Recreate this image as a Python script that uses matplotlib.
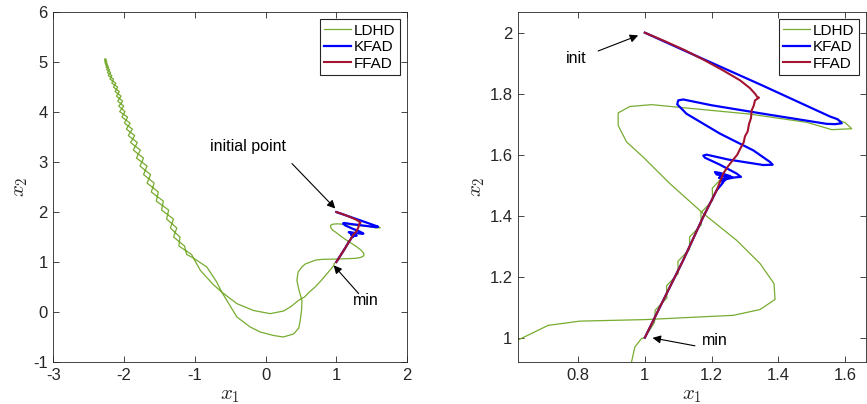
import matplotlib
matplotlib.use("Agg")
import matplotlib.pyplot as plt
import numpy as np

plt.rcParams['font.family'] = ['Liberation Sans', 'DejaVu Sans']
plt.rcParams['mathtext.fontset'] = 'cm'
plt.rcParams['axes.unicode_minus'] = False

# ---------------- data ----------------
# LDHD: wiggly double strand in the valley (y, strand A x, strand B x)
wig_y = [5.06, 5.02, 4.98, 4.94, 4.90, 4.85, 4.79, 4.73, 4.66, 4.58, 4.50, 4.41,
         4.32, 4.22, 4.12, 4.01, 3.90, 3.78, 3.66, 3.53, 3.39, 3.24, 3.08, 2.92,
         2.75, 2.58, 2.40, 2.22, 2.04, 1.86, 1.68, 1.50, 1.32, 1.15]
wig_xa = [-2.253, -2.275, -2.240, -2.260, -2.219, -2.245, -2.190, -2.223, -2.150,
          -2.173, -2.090, -2.127, -2.043, -2.090, -2.005, -2.063, -1.950, -1.995,
          -1.883, -1.940, -1.812, -1.870, -1.725, -1.775, -1.625, -1.675, -1.515,
          -1.545, -1.370, -1.398, -1.255, -1.300, -1.145, -1.115]
wig_xb = [-2.277, -2.245, -2.270, -2.230, -2.255, -2.205, -2.234, -2.173, -2.200,
          -2.117, -2.150, -2.067, -2.107, -2.020, -2.075, -1.987, -2.030, -1.915,
          -1.967, -1.850, -1.908, -1.770, -1.825, -1.675, -1.725, -1.575, -1.615,
          -1.445, -1.470, -1.302, -1.345, -1.210, -1.225, -1.045]

# LDHD: near the minimum, up along FFAD, then down the upper branch of the valley
ldhd_start_x = [1.228, 1.202, 1.203, 1.168, 1.169, 1.134, 1.134, 1.099, 1.100, 1.065,
                1.066, 1.031, 1.029, 1.000, 0.990, 0.970, 0.960, 0.900, 0.840, 0.780,
                0.700, 0.620, 0.550, 0.467, 0.360, 0.255, 0.066, -0.170, -0.405,
                -0.620, -0.690, -0.830, -1.020]
ldhd_start_y = [1.52, 1.49, 1.45, 1.41, 1.37, 1.33, 1.29, 1.25, 1.21, 1.17,
                1.13, 1.09, 1.05, 1.00, 0.997, 0.969, 0.92, 0.82, 0.72, 0.62,
                0.50, 0.40, 0.30, 0.234, 0.11, 0.02, -0.033, 0.03, 0.167,
                0.40, 0.60, 0.90, 1.08]
# LDHD: lower branch of the valley, then the big loop near the minimum
ldhd_end_x = [-1.020, -0.920, -0.740, -0.620, -0.405, -0.217, -0.075, 0.113, 0.250,
              0.396, 0.470, 0.490, 0.510, 0.514, 0.470, 0.443, 0.460, 0.514, 0.560,
              0.620, 0.710, 0.805, 1.000, 1.265, 1.345, 1.390, 1.387, 1.345, 1.275,
              1.175, 1.075, 0.995, 0.945, 0.920, 0.920, 0.955, 1.020, 1.115, 1.315,
              1.485, 1.560, 1.620, 1.600, 1.575]
ldhd_end_y = [1.08, 0.83, 0.55, 0.40, -0.10, -0.30, -0.40, -0.47, -0.50,
              -0.44, -0.32, -0.167, 0.05, 0.233, 0.45, 0.633, 0.80, 0.90, 0.96,
              0.992, 1.040, 1.054, 1.059, 1.073, 1.092, 1.125, 1.177, 1.243, 1.319,
              1.407, 1.505, 1.592, 1.642, 1.696, 1.737, 1.758, 1.764, 1.754, 1.733,
              1.706, 1.682, 1.685, 1.705, 1.715]

# KFAD
kfad_x = [1.000, 1.115, 1.350, 1.555, 1.578, 1.590, 1.570, 1.545, 1.350, 1.200,
          1.115, 1.100, 1.097, 1.125, 1.225, 1.325, 1.375, 1.383, 1.355, 1.250,
          1.185, 1.175, 1.180, 1.225, 1.275, 1.288, 1.265, 1.215, 1.210, 1.225,
          1.255, 1.262, 1.240, 1.222, 1.232, 1.245, 1.236, 1.228, 1.234, 1.215,
          1.175, 1.115, 1.055, 1.000]
kfad_y = [2.000, 1.943, 1.828, 1.725, 1.716, 1.703, 1.700, 1.701, 1.735, 1.762,
          1.781, 1.778, 1.765, 1.734, 1.669, 1.614, 1.576, 1.567, 1.566, 1.584,
          1.600, 1.597, 1.590, 1.567, 1.538, 1.527, 1.525, 1.535, 1.543, 1.540,
          1.530, 1.524, 1.519, 1.524, 1.532, 1.522, 1.512, 1.515, 1.508, 1.483,
          1.396, 1.254, 1.122, 1.000]

# FFAD
ffad_x = [1.000, 1.060, 1.115, 1.175, 1.235, 1.285, 1.315, 1.330, 1.337, 1.342,
          1.330, 1.326, 1.320, 1.318, 1.312, 1.308, 1.300, 1.296, 1.286, 1.277,
          1.262, 1.248, 1.235, 1.215, 1.175, 1.115, 1.055, 1.000]
ffad_y = [2.000, 1.972, 1.945, 1.912, 1.876, 1.844, 1.818, 1.800, 1.789, 1.787,
          1.778, 1.760, 1.745, 1.720, 1.700, 1.676, 1.660, 1.640, 1.620, 1.600,
          1.580, 1.560, 1.538, 1.483, 1.396, 1.254, 1.122, 1.000]

series_names = ['LDHD', 'KFAD', 'FFAD']

# annotations: (text, text position, arrow tail, arrow head)
left_notes = [('initial point', (-0.25, 3.32), (0.373, 2.97), (0.986, 2.07)),
              ('min', (1.42, 0.233), (1.316, 0.368), (0.962, 0.934))]
right_notes = [('init', (0.793, 1.917), (0.86, 1.94), (0.98, 1.991)),
               ('min', (1.21, 0.992), (1.15, 0.973), (1.023, 0.999))]

left_xlim, left_ylim = (-3, 2), (-1, 6)
left_xticks, left_yticks = [-3, -2, -1, 0, 1, 2], [-1, 0, 1, 2, 3, 4, 5, 6]
right_xlim, right_ylim = (0.62, 1.663), (0.92, 2.0675)
right_xticks = [0.8, 1.0, 1.2, 1.4, 1.6]
right_xticklabels = ['0.8', '1', '1.2', '1.4', '1.6']
right_yticks = [1.0, 1.2, 1.4, 1.6, 1.8, 2.0]
right_yticklabels = ['1', '1.2', '1.4', '1.6', '1.8', '2']

# ---------------- build LDHD path ----------------
ldhd_x = (ldhd_start_x + wig_xa[::-1] + wig_xb + ldhd_end_x)
ldhd_y = (ldhd_start_y + wig_y[::-1] + wig_y + ldhd_end_y)

c_green = '#77AC30'
c_blue = '#0000FF'
c_red = '#A2142F'
axcol = '#262626'

fig = plt.figure(figsize=(8.67, 4.04), dpi=100)
ax1 = fig.add_axes([0.0615, 0.104, 0.408, 0.866])
ax2 = fig.add_axes([0.5975, 0.104, 0.4015, 0.866])


def draw(ax, notes):
    ax.plot(ldhd_x, ldhd_y, color=c_green, lw=0.9, label=series_names[0],
            solid_joinstyle='round')
    ax.plot(kfad_x, kfad_y, color=c_blue, lw=1.6, label=series_names[1])
    ax.plot(ffad_x, ffad_y, color=c_red, lw=1.5, label=series_names[2])
    for txt, tpos, tail, head in notes:
        ax.text(tpos[0], tpos[1], txt, fontsize=11.5, color='k', ha='center', va='center')
        ax.annotate('', xy=head, xytext=tail,
                    arrowprops=dict(arrowstyle='-|>', color='k', lw=0.8,
                                    mutation_scale=12, shrinkA=0, shrinkB=0))
    leg = ax.legend(loc='upper right', fontsize=11, fancybox=False, framealpha=1,
                    edgecolor=axcol, borderpad=0.3, labelspacing=0.17,
                    handlelength=1.75, handletextpad=0.2, borderaxespad=0.45)
    leg.get_frame().set_linewidth(0.8)
    for s in ax.spines.values():
        s.set_color(axcol)
        s.set_linewidth(0.6)
    ax.tick_params(direction='in', top=True, right=True, length=4, width=0.6,
                   colors=axcol, labelsize=12, labelcolor=axcol, pad=4)
    ax.set_xlabel('$x_1$', fontsize=15, color=axcol, labelpad=2.5)
    ax.set_ylabel('$x_2$', fontsize=15, color=axcol, labelpad=2)


draw(ax1, left_notes)
ax1.set_xlim(*left_xlim)
ax1.set_ylim(*left_ylim)
ax1.set_xticks(left_xticks)
ax1.set_yticks(left_yticks)

draw(ax2, right_notes)
ax2.set_xlim(*right_xlim)
ax2.set_ylim(*right_ylim)
ax2.set_xticks(right_xticks)
ax2.set_xticklabels(right_xticklabels)
ax2.set_yticks(right_yticks)
ax2.set_yticklabels(right_yticklabels)

fig.savefig('out.png', dpi=100)
